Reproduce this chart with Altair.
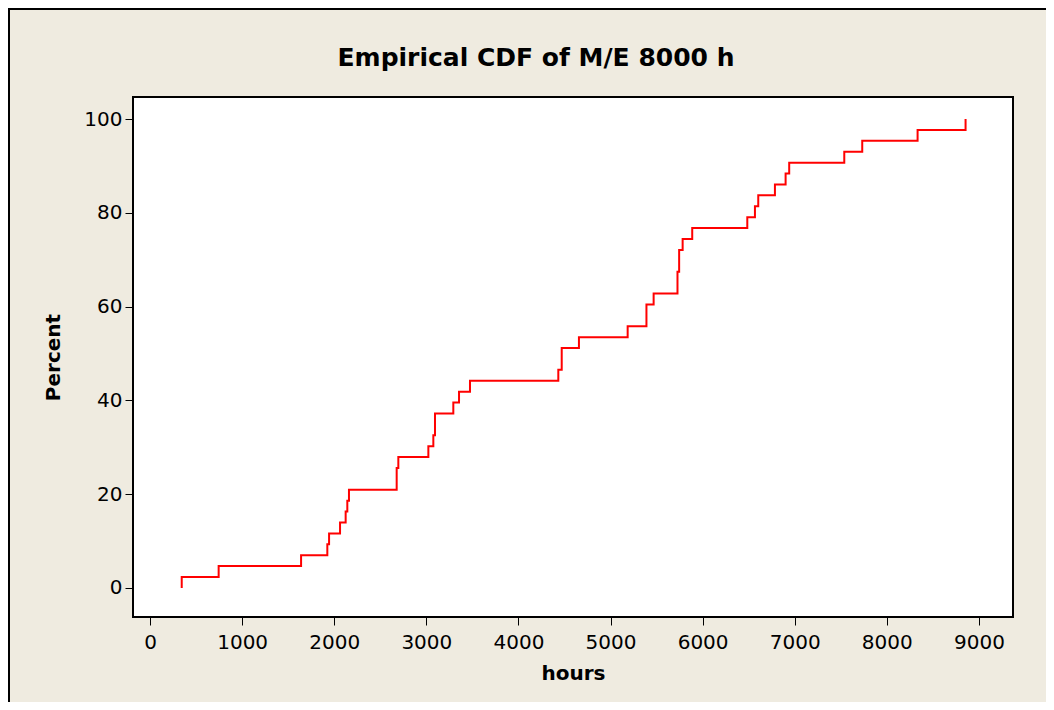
import altair as alt
import pandas as pd

# Observed failure times (hours), read from the step positions of the ECDF
hours = [344, 745, 1640, 1925, 1944, 2063, 2124, 2142, 2160,
         2678, 2678, 2696, 3022, 3076, 3094, 3094, 3293, 3355, 3474,
         4433, 4470, 4470, 4657, 5186, 5390, 5390, 5468,
         5727, 5727, 5745, 5745, 5783, 5887,
         6485, 6568, 6604, 6785, 6901, 6940, 7538, 7733, 8334, 8855]

x_ticks = [0, 1000, 2000, 3000, 4000, 5000, 6000, 7000, 8000, 9000]
y_ticks = [0, 20, 40, 60, 80, 100]
title_text = "Empirical CDF of M/E 8000 h"

# empirical CDF (percent) of the sample
s = pd.Series(sorted(hours))
n = len(s)
counts = s.value_counts().sort_index()
cum = counts.cumsum() / n * 100
df = pd.DataFrame({"hours": [counts.index[0]] + list(counts.index),
                   "percent": [0.0] + list(cum.values)})
df["order"] = range(len(df))

FONT = "DejaVu Sans"
BG = "#EFEBE0"

line = alt.Chart(df).mark_line(color="#FF0000", strokeWidth=2,
                               interpolate="step-after").encode(
    x=alt.X("hours:Q", title="hours",
            scale=alt.Scale(domain=[-185, 9370], nice=False, zero=False),
            axis=alt.Axis(values=x_ticks, format="d")),
    y=alt.Y("percent:Q", title="Percent",
            scale=alt.Scale(domain=[-6.2, 104.7], nice=False, zero=False),
            axis=alt.Axis(values=y_ticks, format="d")),
    order="order:Q",
)

frame_left = alt.Chart(df).mark_rule(color="black", strokeWidth=2).encode(
    x=alt.value(-124), y=alt.value(-89), y2=alt.value(605))
frame_top = alt.Chart(df).mark_rule(color="black", strokeWidth=2).encode(
    x=alt.value(-125), x2=alt.value(913), y=alt.value(-88))

title = alt.Chart(pd.DataFrame({"t": [title_text]})).mark_text(
    font=FONT, fontSize=25, fontWeight="bold", color="black",
    align="center", baseline="middle").encode(
    text="t:N", x=alt.value(403), y=alt.value(-39))

chart = (frame_left + frame_top + line + title).properties(
    width=880, height=520,
    autosize=alt.AutoSizeParams(type="none"),
    padding={"left": 125, "top": 89, "right": 33, "bottom": 85},
    background=BG,
).configure_view(
    fill="white", stroke="black", strokeWidth=2
).configure_axis(
    grid=False, domain=False, ticks=True, tickColor="black", tickSize=8,
    tickWidth=1, labelFont=FONT, labelFontSize=20, labelColor="black",
    titleFont=FONT, titleFontSize=20, titleFontWeight="bold",
    titleColor="black"
).configure_axisX(
    labelPadding=7, titlePadding=11
).configure_axisY(
    labelPadding=3, titlePadding=20
)

chart.save("out.html", embed_options={"renderer": "svg", "actions": False})
